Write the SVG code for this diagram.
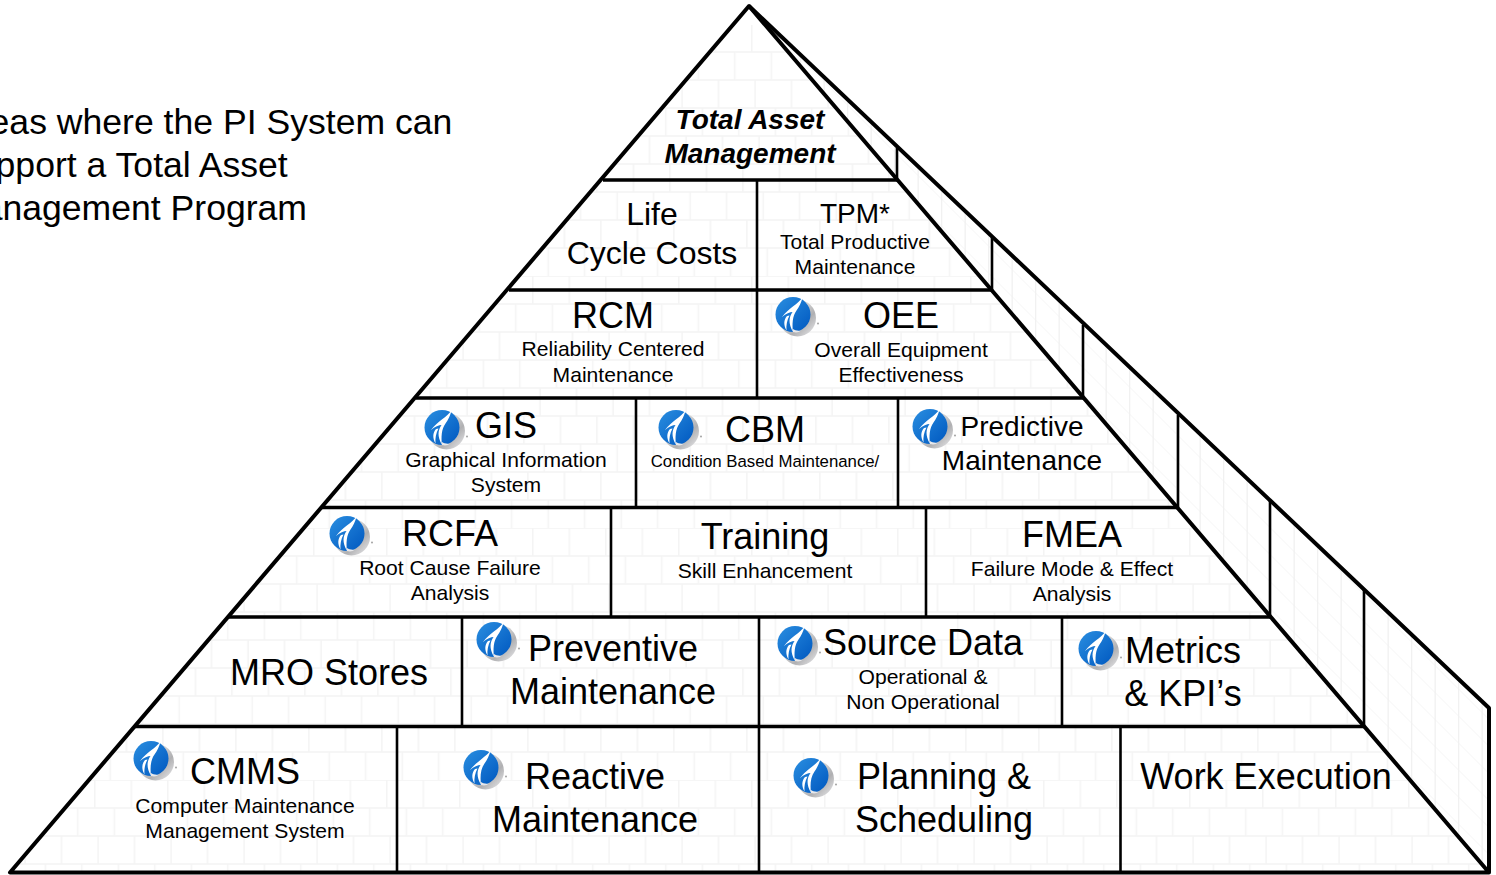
<svg xmlns="http://www.w3.org/2000/svg" width="1496" height="875" viewBox="0 0 1496 875">
<style>
text{font-family:"Liberation Sans",Arial,sans-serif;fill:#000;text-anchor:middle}
.l{font-size:36px}.m{font-size:32px}.s{font-size:21.100px}.t{font-size:28px;font-weight:bold;font-style:italic}
.i{font-size:35.600px;text-anchor:start}
.e{fill:none;stroke:#000;stroke-width:4;stroke-linejoin:round}
.h{fill:none;stroke:#000;stroke-width:3.5}
.v{fill:none;stroke:#000;stroke-width:2.6}
</style>
<defs>
<pattern id="brick" patternUnits="userSpaceOnUse" x="94" y="780" width="36.5" height="252">
<path fill="none" stroke="#f4f4f4" stroke-width="1.5" d="M0 0H36.5M0 28H36.5M0 56H36.5M0 84H36.5M0 112H36.5M0 140H36.5M0 168H36.5M0 196H36.5M0 224H36.5M0.8 0V28M20.3 28V56M4.1 56V84M24.3 84V112M8.1 112V140M28.4 140V168M12.2 168V196M32.4 196V224M16.2 224V252"/>
</pattern>
<pattern id="side" patternUnits="userSpaceOnUse" width="23.5" height="27" patternTransform="translate(1270 500) skewY(45)">
<path fill="none" stroke="#f1f1f1" stroke-width="1.3" d="M0 0H23.5M0.6 0V27"/>
</pattern>
<linearGradient id="gr" x1="0.2" y1="0.2" x2="0.9" y2="0.9"><stop offset="0" stop-color="#f4f4f4"/><stop offset="0.65" stop-color="#b0b0b2"/><stop offset="1" stop-color="#dcdcde"/></linearGradient>
<linearGradient id="bl" x1="0" y1="0" x2="1" y2="1"><stop offset="0" stop-color="#2a8ee0"/><stop offset="1" stop-color="#0058c0"/></linearGradient>
<symbol id="logo" overflow="visible">
<circle cx="22.500" cy="21" r="18.500" fill="url(#gr)"/>
<circle cx="18" cy="17.500" r="17.500" fill="url(#bl)"/>
<path fill="#fff" d="M27.500 0.500C23 7 14 11 7 20C11 16.500 15 15 17.500 15C14 20 13 26 18 35C17 27 17.500 19 21.500 13.500C24 10 26.500 5 27.500 0.500Z"/>
<path fill="#fff" d="M12 19C8.500 23 8.500 28 11.500 33.500C11 28 12 23 14.500 18.500Z"/>
<path fill="#e8e8ea" d="M18 35C21 36 24 35.500 26 33.500C23 34 20 33.500 18 32Z"/>
<circle cx="43" cy="26.500" r="0.900" fill="#999"/>
</symbol>
</defs>

<g id="background">
<path d="M749 6L1489 708V872.500Z" fill="url(#side)"/>
<path d="M749 6L10 872.500H1489Z" fill="url(#brick)"/>
</g>

<g id="connectors">
<path class="e" d="M749 6L10 872.500H1489Z"/>
<path class="e" d="M749 6L1489 708V872.500"/>
<path class="h" d="M603 180H897M509 290H992M416 398H1083M322 507.500H1178M229 617H1270M135 726.500H1364"/>
<path class="v" d="M897 148V180M992 238V290M1083 325V398M1178 415V507M1270 501V617M1364 589V726"/>
<path class="v" d="M757 180V398M636 398V507M898 398V507M611 507V617M926 507V617M462 617V726M759 617V872M1062 617V726M397 728V872M1120.500 728V872"/>
</g>

<g id="intro">
<text class="i" x="-46" y="134">Areas where the PI System can</text>
<text class="i" x="-42" y="177">support a Total Asset</text>
<text class="i" x="-47" y="220">Management Program</text>
</g>

<g id="node-tam"><text class="t" x="750" y="129">Total Asset</text><text class="t" x="750" y="163">Management</text></g>
<g id="node-lcc"><text class="m" x="652" y="225">Life</text><text class="m" x="652" y="264">Cycle Costs</text></g>
<g id="node-tpm"><text class="m" x="855" y="223" style="font-size:28px">TPM*</text><text class="s" x="855" y="249">Total Productive</text><text class="s" x="855" y="274">Maintenance</text></g>
<g id="node-rcm"><text class="l" x="613" y="328">RCM</text><text class="s" x="613" y="356">Reliability Centered</text><text class="s" x="613" y="382">Maintenance</text></g>
<g id="node-oee"><use href="#logo" x="775" y="297"/><text class="l" x="901" y="328">OEE</text><text class="s" x="901" y="357">Overall Equipment</text><text class="s" x="901" y="382">Effectiveness</text></g>
<g id="node-gis"><use href="#logo" x="424" y="410"/><text class="l" x="506" y="438">GIS</text><text class="s" x="506" y="467">Graphical Information</text><text class="s" x="506" y="492">System</text></g>
<g id="node-cbm"><use href="#logo" x="658" y="410"/><text class="l" x="765" y="442">CBM</text><text x="765" y="467" style="font-size:16.800px">Condition Based Maintenance/</text></g>
<g id="node-pred"><use href="#logo" x="912" y="409"/><text x="1022" y="436" style="font-size:28px">Predictive</text><text x="1022" y="470" style="font-size:28px">Maintenance</text></g>
<g id="node-rcfa"><use href="#logo" x="329" y="516"/><text class="l" x="450" y="546">RCFA</text><text class="s" x="450" y="575">Root Cause Failure</text><text class="s" x="450" y="600">Analysis</text></g>
<g id="node-training"><text class="l" x="765" y="549">Training</text><text class="s" x="765" y="578">Skill Enhancement</text></g>
<g id="node-fmea"><text class="l" x="1072" y="547">FMEA</text><text class="s" x="1072" y="576">Failure Mode &amp; Effect</text><text class="s" x="1072" y="601">Analysis</text></g>
<g id="node-mro"><text class="l" x="329" y="685">MRO Stores</text></g>
<g id="node-prev"><use href="#logo" x="476" y="622"/><text class="l" x="613" y="661">Preventive</text><text class="l" x="613" y="704">Maintenance</text></g>
<g id="node-source"><use href="#logo" x="777" y="626"/><text class="l" x="923" y="655">Source Data</text><text class="s" x="923" y="684">Operational &amp;</text><text class="s" x="923" y="709">Non Operational</text></g>
<g id="node-metrics"><use href="#logo" x="1078" y="631"/><text class="l" x="1183" y="663">Metrics</text><text class="l" x="1183" y="706">&amp; KPI’s</text></g>
<g id="node-cmms"><use href="#logo" x="133" y="741"/><text class="l" x="245" y="784">CMMS</text><text class="s" x="245" y="813">Computer Maintenance</text><text class="s" x="245" y="838">Management System</text></g>
<g id="node-reactive"><use href="#logo" x="463" y="750"/><text class="l" x="595" y="789">Reactive</text><text class="l" x="595" y="832">Maintenance</text></g>
<g id="node-planning"><use href="#logo" x="793" y="758"/><text class="l" x="944" y="789">Planning &amp;</text><text class="l" x="944" y="832">Scheduling</text></g>
<g id="node-work"><text class="l" x="1266" y="789">Work Execution</text></g>
</svg>
